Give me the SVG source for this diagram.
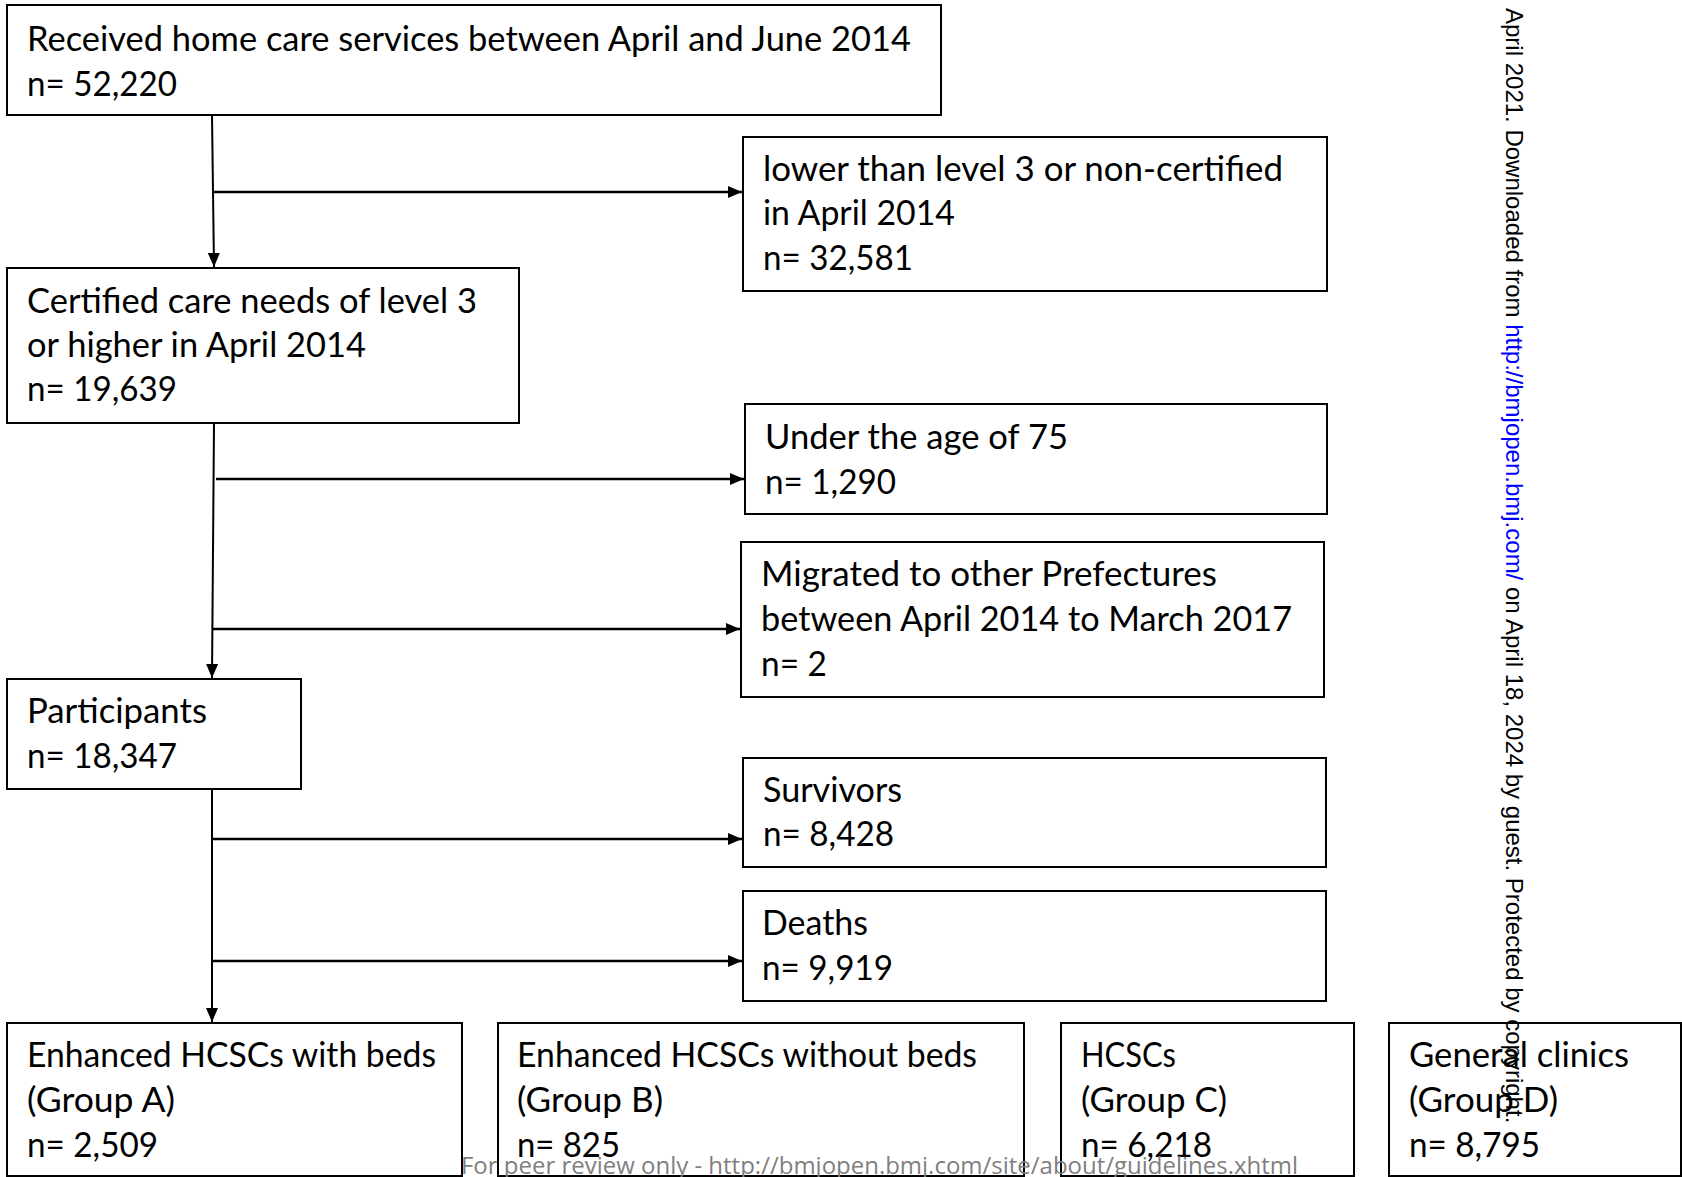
<svg xmlns="http://www.w3.org/2000/svg" width="1682" height="1177" viewBox="0 0 1682 1177">
<style>
.box{fill:#fff;stroke:#000;stroke-width:2}
.t{font-family:Lato,"Open Sans","Liberation Sans",sans-serif;font-size:34px;fill:#000}
.c{stroke:#000;stroke-width:2;fill:none}
.h{stroke:#000;stroke-width:2.5;fill:none}
.wm{font-family:"Liberation Sans",Arial,sans-serif;font-size:24px;fill:#000}
.ft{font-family:"Open Sans","Liberation Sans",sans-serif;font-size:24px;fill:#7f7f7f}
</style>
<defs>
<marker id="ah" markerUnits="userSpaceOnUse" markerWidth="14" markerHeight="12" refX="14" refY="6" orient="auto">
<path d="M0,0 L14,6 L0,12 z" fill="#000"/>
</marker>
</defs>
<rect width="1682" height="1177" fill="#fff"/>

<g id="n1">
<rect class="box" x="7" y="5" width="934" height="110"/>
<text class="t" x="27" y="51" textLength="884" lengthAdjust="spacingAndGlyphs">Received home care services between April and June 2014</text>
<text class="t" x="27" y="96" textLength="150" lengthAdjust="spacingAndGlyphs">n= 52,220</text>
</g>

<g id="n2">
<rect class="box" x="743" y="137" width="584" height="154"/>
<text class="t" x="763" y="181" textLength="520" lengthAdjust="spacingAndGlyphs">lower than level 3 or non-certified</text>
<text class="t" x="763" y="225" textLength="192" lengthAdjust="spacingAndGlyphs">in April 2014</text>
<text class="t" x="763" y="270" textLength="150" lengthAdjust="spacingAndGlyphs">n= 32,581</text>
</g>

<g id="n3">
<rect class="box" x="7" y="268" width="512" height="155"/>
<text class="t" x="27" y="313" textLength="450" lengthAdjust="spacingAndGlyphs">Certified care needs of level 3</text>
<text class="t" x="27" y="357" textLength="339" lengthAdjust="spacingAndGlyphs">or higher in April 2014</text>
<text class="t" x="27" y="401" textLength="150" lengthAdjust="spacingAndGlyphs">n= 19,639</text>
</g>

<g id="n4">
<rect class="box" x="745" y="404" width="582" height="110"/>
<text class="t" x="765" y="449" textLength="303" lengthAdjust="spacingAndGlyphs">Under the age of 75</text>
<text class="t" x="765" y="494" textLength="131" lengthAdjust="spacingAndGlyphs">n= 1,290</text>
</g>

<g id="n5">
<rect class="box" x="741" y="542" width="583" height="155"/>
<text class="t" x="761" y="586" textLength="456" lengthAdjust="spacingAndGlyphs">Migrated to other Prefectures</text>
<text class="t" x="761" y="631" textLength="531" lengthAdjust="spacingAndGlyphs">between April 2014 to March 2017</text>
<text class="t" x="761" y="676" textLength="66" lengthAdjust="spacingAndGlyphs">n= 2</text>
</g>

<g id="n6">
<rect class="box" x="7" y="679" width="294" height="110"/>
<text class="t" x="27" y="723" textLength="180" lengthAdjust="spacingAndGlyphs">Participants</text>
<text class="t" x="27" y="768" textLength="150" lengthAdjust="spacingAndGlyphs">n= 18,347</text>
</g>

<g id="n7">
<rect class="box" x="743" y="758" width="583" height="109"/>
<text class="t" x="763" y="802" textLength="139" lengthAdjust="spacingAndGlyphs">Survivors</text>
<text class="t" x="763" y="846" textLength="131" lengthAdjust="spacingAndGlyphs">n= 8,428</text>
</g>

<g id="n8">
<rect class="box" x="743" y="891" width="583" height="110"/>
<text class="t" x="762" y="935" textLength="106" lengthAdjust="spacingAndGlyphs">Deaths</text>
<text class="t" x="762" y="980" textLength="131" lengthAdjust="spacingAndGlyphs">n= 9,919</text>
</g>

<g id="n9">
<rect class="box" x="7" y="1023" width="455" height="153"/>
<text class="t" x="27" y="1067" textLength="409" lengthAdjust="spacingAndGlyphs">Enhanced HCSCs with beds</text>
<text class="t" x="27" y="1112" textLength="148" lengthAdjust="spacingAndGlyphs">(Group A)</text>
<text class="t" x="27" y="1157" textLength="131" lengthAdjust="spacingAndGlyphs">n= 2,509</text>
</g>

<g id="n10">
<rect class="box" x="498" y="1023" width="526" height="153"/>
<text class="t" x="517" y="1067" textLength="460" lengthAdjust="spacingAndGlyphs">Enhanced HCSCs without beds</text>
<text class="t" x="517" y="1112" textLength="146" lengthAdjust="spacingAndGlyphs">(Group B)</text>
<text class="t" x="517" y="1157" textLength="103" lengthAdjust="spacingAndGlyphs">n= 825</text>
</g>

<g id="n11">
<rect class="box" x="1061" y="1023" width="293" height="153"/>
<text class="t" x="1081" y="1067" textLength="95" lengthAdjust="spacingAndGlyphs">HCSCs</text>
<text class="t" x="1081" y="1112" textLength="146" lengthAdjust="spacingAndGlyphs">(Group C)</text>
<text class="t" x="1081" y="1157" textLength="131" lengthAdjust="spacingAndGlyphs">n= 6,218</text>
</g>

<g id="n12">
<rect class="box" x="1389" y="1023" width="292" height="153"/>
<text class="t" x="1409" y="1067" textLength="220" lengthAdjust="spacingAndGlyphs">General clinics</text>
<text class="t" x="1409" y="1112" textLength="149" lengthAdjust="spacingAndGlyphs">(Group D)</text>
<text class="t" x="1409" y="1157" textLength="131" lengthAdjust="spacingAndGlyphs">n= 8,795</text>
</g>

<g id="connectors">
<line class="c" x1="212" y1="115" x2="214" y2="267" marker-end="url(#ah)"/>
<line class="h" x1="214" y1="192" x2="742" y2="192" marker-end="url(#ah)"/>
<line class="c" x1="214" y1="423" x2="212" y2="678" marker-end="url(#ah)"/>
<line class="h" x1="216" y1="479" x2="744" y2="479" marker-end="url(#ah)"/>
<line class="h" x1="213" y1="629" x2="740" y2="629" marker-end="url(#ah)"/>
<line class="c" x1="212" y1="789" x2="212" y2="1022" marker-end="url(#ah)"/>
<line class="h" x1="213" y1="839" x2="742" y2="839" marker-end="url(#ah)"/>
<line class="h" x1="213" y1="961" x2="742" y2="961" marker-end="url(#ah)"/>
</g>

<g id="watermark">
<text class="wm" transform="translate(1506,8) rotate(90)">April 2021. Downloaded from <tspan fill="#0000ff">http://bmjopen.bmj.com/</tspan> on April 18, 2024 by guest. Protected by copyright.</text>
</g>

<g id="footer">
<text class="ft" x="461" y="1174" textLength="837" lengthAdjust="spacingAndGlyphs">For peer review only - http://bmjopen.bmj.com/site/about/guidelines.xhtml</text>
</g>
</svg>
